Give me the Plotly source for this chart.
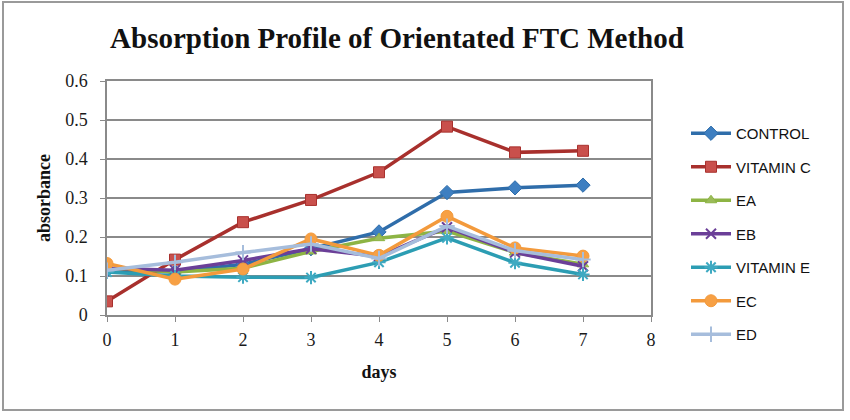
import plotly.graph_objects as go

days = [0, 1, 2, 3, 4, 5, 6, 7]
control = [0.115, 0.11, 0.13, 0.17, 0.213, 0.314, 0.326, 0.333]
vitamin_c = [0.035, 0.142, 0.238, 0.295, 0.366, 0.483, 0.417, 0.421]
ea = [0.12, 0.11, 0.12, 0.163, 0.197, 0.215, 0.16, 0.13]
eb = [0.12, 0.115, 0.14, 0.17, 0.15, 0.225, 0.16, 0.125]
vitamin_e = [0.11, 0.1, 0.097, 0.096, 0.135, 0.198, 0.134, 0.104]
ec = [0.132, 0.092, 0.118, 0.195, 0.153, 0.253, 0.172, 0.151]
ed = [0.115, 0.135, 0.16, 0.182, 0.145, 0.228, 0.165, 0.142]
y_ticks = [0, 0.1, 0.2, 0.3, 0.4, 0.5, 0.6]
y_tick_labels = ["0", "0.1", "0.2", "0.3", "0.4", "0.5", "0.6"]

series = [
    ("CONTROL", control, "#2F6DAA", "#3E7FC1", "diamond", 11),
    ("VITAMIN C", vitamin_c, "#A8302D", "#C9504C", "square", 11),
    ("EA", ea, "#8DB444", "#9BBB59", "triangle-up", 10),
    ("EB", eb, "#6B3F98", "#7D5AA6", "x-thin", 10),
    ("VITAMIN E", vitamin_e, "#2C9DB3", "#3FAAC2", "asterisk-open", 11),
    ("EC", ec, "#F39A3C", "#F7A044", "circle", 12),
    ("ED", ed, "#A6BDDC", "#A6BDDC", "cross-thin", 11),
]

fig = go.Figure()
for i, (name, vals, lc, mc, sym, ms) in enumerate(series):
    thin = sym.endswith("thin") or sym.endswith("open")
    fig.add_trace(go.Scatter(
        x=days, y=vals, name=name, mode="lines+markers",
        legendgroup=name,
        line=dict(color=lc, width=3.5),
        marker=dict(symbol=sym, size=ms, color=mc,
                    line=dict(color=lc, width=2 if thin else 1)),
    ))

W, H = 850, 420
L, R, T, B = 107, 199, 81, 105
pw, ph = W - L - R, H - T - B

def px_x(p):
    return (p - L) / pw

def px_y(p):
    return (H - B - p) / ph

serif = "Liberation Serif"
fig.update_layout(
    width=W, height=H,
    margin=dict(l=L, r=R, t=T, b=B, pad=0, autoexpand=False),
    paper_bgcolor="white", plot_bgcolor="white",
    title=dict(text="<b>Absorption Profile of Orientated FTC Method</b>",
               x=px_x(397), xanchor="center", xref="paper",
               y=1 - 38 / H, yanchor="middle",
               font=dict(family=serif, size=29, color="#111")),
    xaxis=dict(range=[0, 8], dtick=1, tick0=0, showgrid=False, automargin=False,
               showline=True, linecolor="#8a8a8a", linewidth=1.5, mirror=True,
               ticks="outside", ticklen=5, tickcolor="#8a8a8a",
               ticklabelstandoff=3,
               tickfont=dict(family=serif, size=18, color="#1a1a1a"),
               title=dict(text="<b>days</b>", standoff=16,
                          font=dict(family=serif, size=18, color="#111")),
               zeroline=False),
    yaxis=dict(range=[0, 0.6], tickmode="array", tickvals=y_ticks,
               ticktext=y_tick_labels, showgrid=True, automargin=False,
               gridcolor="#8a8a8a", gridwidth=1.5,
               showline=True, linecolor="#8a8a8a", linewidth=1.5, mirror=True,
               ticks="outside", ticklen=5, tickcolor="#8a8a8a",
               ticklabelstandoff=9,
               tickfont=dict(family=serif, size=18, color="#1a1a1a"),
               title=dict(text="<b>absorbance</b>", standoff=10,
                          font=dict(family=serif, size=18, color="#111")),
               zeroline=False),
    legend=dict(x=px_x(686), y=px_y(117), xanchor="left", yanchor="top",
                font=dict(family="Liberation Sans", size=15, color="#111"),
                tracegroupgap=11, itemwidth=40, bgcolor="rgba(0,0,0,0)",
                maxheight=320),
    showlegend=True,
    shapes=[dict(type="rect", xref="paper", yref="paper",
                 x0=px_x(3), x1=px_x(843), y0=px_y(410), y1=px_y(2),
                 line=dict(color="#9a9a9a", width=2), layer="below")],
)

fig.write_html("out.html")
